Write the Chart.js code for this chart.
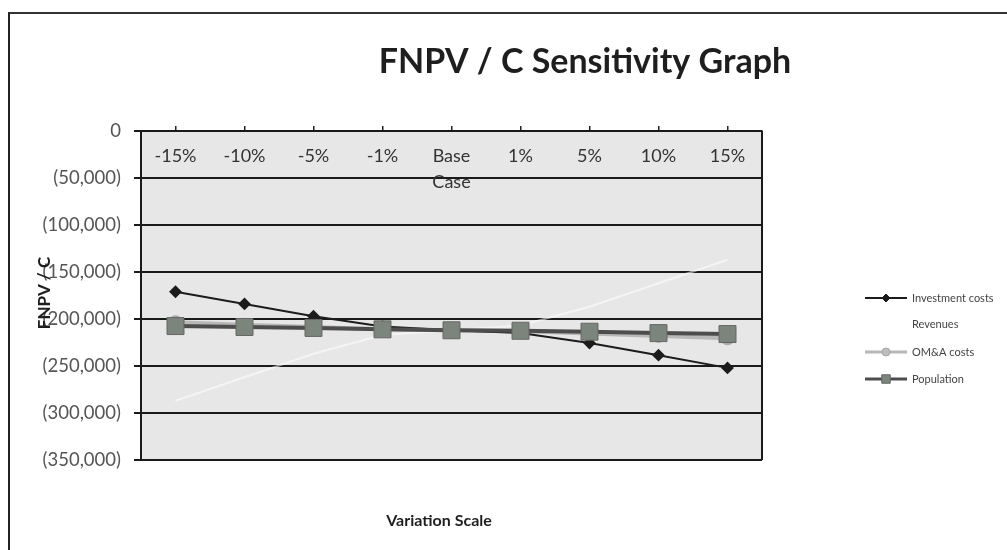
<!DOCTYPE html>
<html>
<head>
<meta charset="utf-8">
<script src="https://cdn.jsdelivr.net/npm/chart.js@4.4.1/dist/chart.umd.min.js"></script>
<style>
  html, body { margin: 0; padding: 0; background: #fff; }
  #wrap { position: relative; width: 1007px; height: 550px; }
  #frame { position: absolute; left: 8px; top: 12px; right: 0; bottom: 0; border-left: 2px solid #222; border-top: 2px solid #333; }
  #chart { position: absolute; left: 0; top: 0; }
</style>
</head>
<body>
<div id="wrap">
  <div id="frame"></div>
  <canvas id="chart" width="1007" height="550"></canvas>
</div>
<script>
const categories = ["-15%", "-10%", "-5%", "-1%", ["Base", "Case"], "1%", "5%", "10%", "15%"];
const investmentCosts = [-171000, -184000, -197000, -208000, -212000, -215000, -225500, -238500, -252000];
const revenues = [-287000, -262000, -237000, -217000, -212000, -207000, -187000, -162000, -137000];
const omaCosts = [-203500, -206000, -208500, -211000, -212000, -213000, -215500, -218000, -220500];
const population = [-207500, -208500, -209500, -211000, -212000, -212500, -213500, -215000, -216000];

const chartTitle = "FNPV / C Sensitivity Graph";
const xTitle = "Variation Scale";
const yTitle = "FNPV / C";

const FONT = "Lato, 'Open Sans', sans-serif";

function fmtTick(v) {
  if (v === 0) return "0";
  return "(" + Math.abs(v).toLocaleString("en-US") + ")";
}

// plot background, right border, titles and legend
const decor = {
  id: "decor",
  beforeDraw(chart) {
    const { ctx, chartArea: a } = chart;
    ctx.save();
    ctx.fillStyle = "#e7e7e7";
    ctx.fillRect(a.left, a.top, a.right - a.left, a.bottom - a.top);
    ctx.restore();
  },
  afterDraw(chart) {
    const { ctx, chartArea: a } = chart;
    ctx.save();
    ctx.strokeStyle = "#1a1a1a";
    ctx.lineWidth = 2;
    ctx.beginPath();
    ctx.moveTo(a.right, a.top);
    ctx.lineTo(a.right, a.bottom);
    ctx.stroke();

    ctx.fillStyle = "#1e1e1e";
    ctx.textAlign = "center";
    ctx.textBaseline = "middle";
    ctx.font = "bold 34px " + FONT;
    ctx.fillText(chartTitle, 585, 62);

    ctx.font = "bold 16px " + FONT;
    ctx.fillText(xTitle, 439, 521);

    ctx.save();
    ctx.translate(45, 293);
    ctx.rotate(-Math.PI / 2);
    ctx.font = "bold 17px " + FONT;
    ctx.fillText(yTitle, 0, 0);
    ctx.restore();

    // legend
    const ly = [298, 324, 352, 379];
    chart.data.datasets.forEach((ds, i) => {
      const y = ly[i];
      ctx.strokeStyle = ds.label === "Revenues" ? "#ffffff" : ds.borderColor;
      ctx.lineWidth = Math.min(ds.borderWidth, 3);
      ctx.beginPath();
      ctx.moveTo(865, y);
      ctx.lineTo(907, y);
      ctx.stroke();
      if (ds.pointRadius > 0) {
        ctx.fillStyle = ds.pointBackgroundColor;
        ctx.strokeStyle = ds.pointBorderColor;
        ctx.lineWidth = 1;
        Chart.helpers.drawPoint(ctx, {
          pointStyle: ds.pointStyle,
          radius: ds.pointStyle === "rect" ? 6 : 4,
          rotation: 0,
          borderWidth: 1
        }, 886, y);
      }
      ctx.fillStyle = "#444";
      ctx.textAlign = "left";
      ctx.font = "11px " + FONT;
      ctx.fillText(ds.label, 912, y);
    });
    ctx.restore();
  }
};

new Chart(document.getElementById("chart"), {
  type: "line",
  data: {
    labels: categories,
    datasets: [
      {
        label: "Investment costs",
        data: investmentCosts,
        borderColor: "#1c1c1c",
        borderWidth: 2,
        pointStyle: "rectRot",
        pointRadius: 5,
        pointBackgroundColor: "#1c1c1c",
        pointBorderColor: "#1c1c1c",
        order: 2
      },
      {
        label: "Revenues",
        data: revenues,
        borderColor: "rgba(255,255,255,0.55)",
        borderWidth: 2,
        pointRadius: 0,
        order: 4
      },
      {
        label: "OM&A costs",
        data: omaCosts,
        borderColor: "#b8b8b8",
        borderWidth: 4,
        pointStyle: "circle",
        pointRadius: 5,
        pointBackgroundColor: "#bdbdbd",
        pointBorderColor: "#a8a8a8",
        order: 3
      },
      {
        label: "Population",
        data: population,
        borderColor: "#4d4d4d",
        borderWidth: 4,
        pointStyle: "rect",
        pointRadius: 12,
        pointBackgroundColor: "#7c857b",
        pointBorderColor: "#666",
        pointBorderWidth: 1,
        order: 1
      }
    ]
  },
  options: {
    responsive: false,
    animation: false,
    layout: { padding: { left: 0, top: 131, right: 245, bottom: 90 } },
    plugins: {
      legend: { display: false },
      title: { display: false },
      tooltip: { enabled: false }
    },
    scales: {
      x: {
        type: "category",
        position: { y: 0 },
        offset: true,
        grid: { drawOnChartArea: false, drawTicks: true, tickLength: -6, color: "#222", lineWidth: 1.5 },
        border: { display: true, color: "#1a1a1a", width: 2 },
        ticks: {
          padding: 19,
          maxRotation: 0,
          autoSkip: false,
          color: "#333",
          font: { family: FONT, size: 18, lineHeight: 1.4 }
        }
      },
      y: {
        min: -350000,
        max: 0,
        afterFit(scale) { scale.width = 141; },
        grid: { color: "#1a1a1a", lineWidth: 2, tickLength: 7 },
        border: { display: true, color: "#1a1a1a", width: 2 },
        ticks: {
          stepSize: 50000,
          padding: 13,
          color: "#555",
          font: { family: FONT, size: 18.5 },
          callback: v => fmtTick(v)
        }
      }
    }
  },
  plugins: [decor]
});
</script>
</body>
</html>
